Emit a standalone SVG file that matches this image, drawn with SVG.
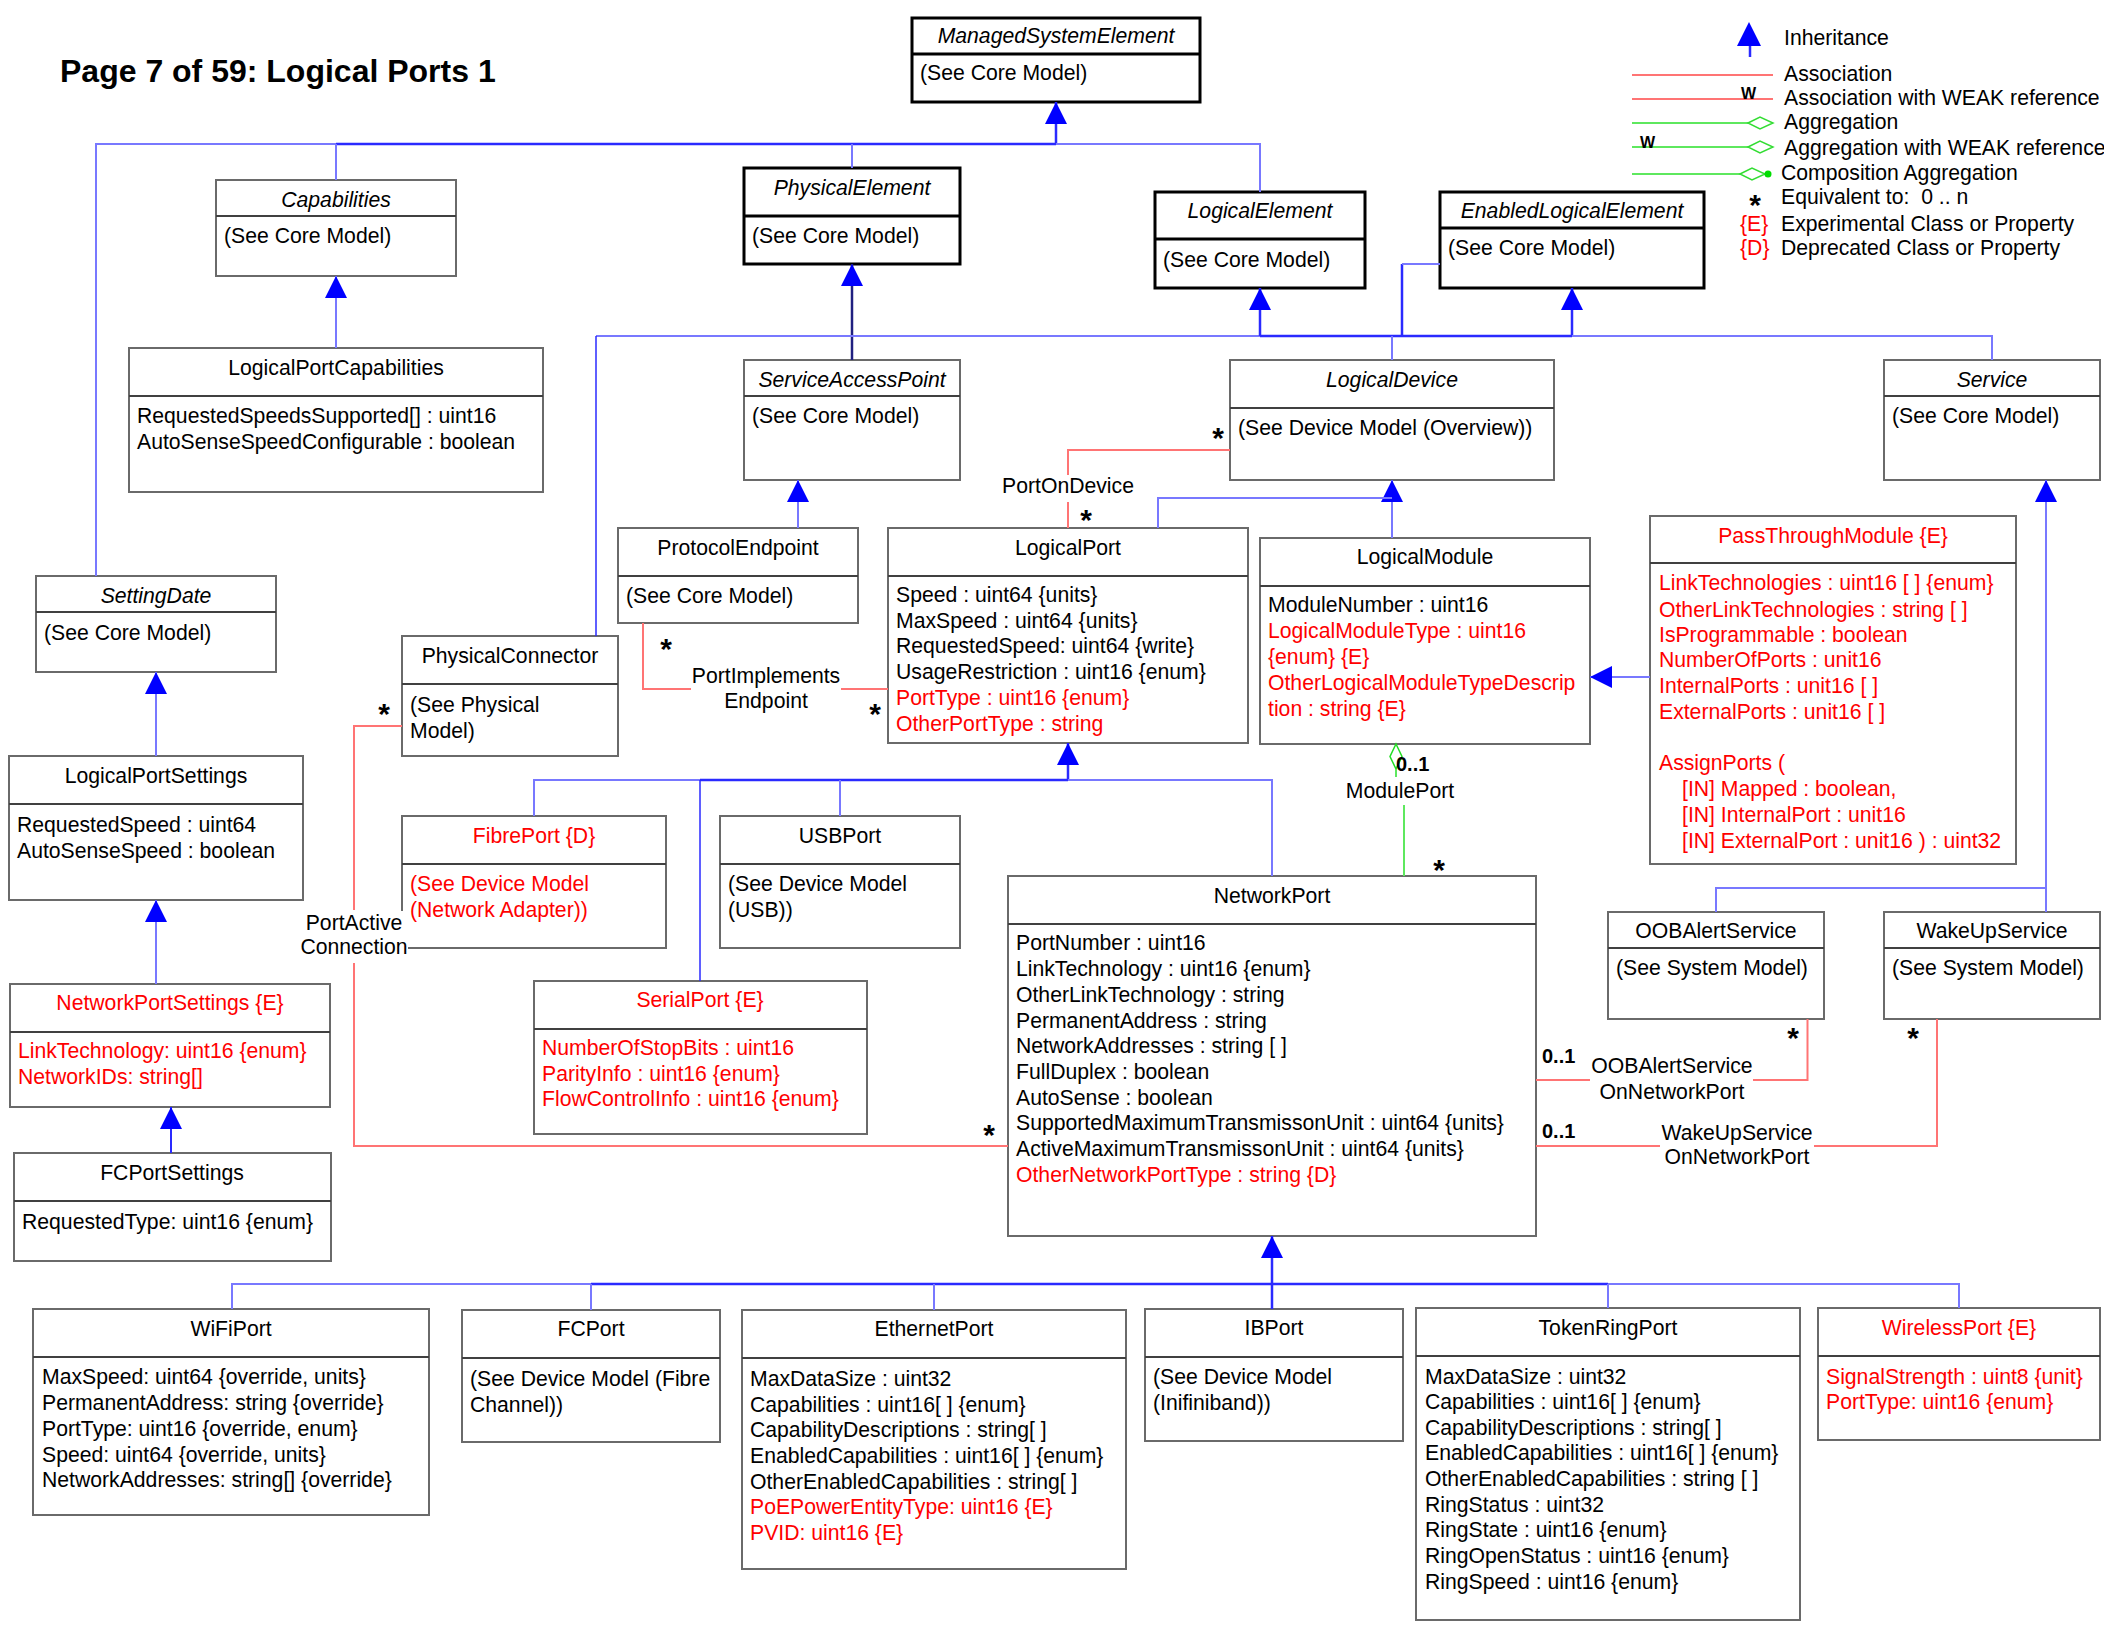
<svg xmlns="http://www.w3.org/2000/svg" width="2104" height="1634" viewBox="0 0 2104 1634">
<style>
text{font-family:"Liberation Sans",Arial,sans-serif;font-size:21.2px;fill:#000}
.t{text-anchor:middle}
.i{font-style:italic}
.r{fill:#f00}
.box{fill:#fff;stroke:#6a6a6a;stroke-width:2}
.bbox{fill:#fff;stroke:#000;stroke-width:3}
.dv{stroke:#404040;stroke-width:2}
.bdv{stroke:#000;stroke-width:3}
.dk{stroke:#2a2aff;stroke-width:2.5;fill:none}
.lt{stroke:#7878ff;stroke-width:2;fill:none}
.nv{stroke:#202080;stroke-width:2.5;fill:none}
.as{stroke:#ff7474;stroke-width:2;fill:none}
.ag{stroke:#5ee85e;stroke-width:2;fill:none}
.star{font-size:30px;font-weight:bold;text-anchor:middle}
.m{font-size:20px;font-weight:bold}
.w{font-size:16px;font-weight:bold}
</style>
<defs>
<marker id="inh" viewBox="0 0 22 22" refX="22" refY="11" markerWidth="22" markerHeight="22" orient="auto" markerUnits="userSpaceOnUse">
<path d="M0,0 L22,11 L0,22 z" fill="#0000ff"/>
</marker>
</defs>
<rect width="2104" height="1634" fill="#fff"/>
<text x="60" y="82" style="font-size:32px;font-weight:bold">Page 7 of 59: Logical Ports 1</text>

<g id="legend">
<path d="M1750,57 V40" class="dk"/>
<polygon points="1749,22 1761,46 1737,46" fill="#0000ff"/>
<text x="1784" y="45">Inheritance</text>
<path d="M1632,75 H1773" class="as"/>
<text x="1784" y="81">Association</text>
<path d="M1632,99 H1773" class="as"/>
<text x="1741" y="99" class="w">W</text>
<text x="1784" y="105">Association with WEAK reference</text>
<path d="M1632,123 H1748" class="ag"/>
<polygon points="1748,123 1760,117 1773,123 1760,129" fill="#fff" stroke="#33dd33" stroke-width="1.5"/>
<text x="1784" y="129">Aggregation</text>
<path d="M1632,147 H1748" class="ag"/>
<polygon points="1748,147 1760,141 1773,147 1760,153" fill="#fff" stroke="#33dd33" stroke-width="1.5"/>
<text x="1640" y="148" class="w">W</text>
<text x="1784" y="155">Aggregation with WEAK reference</text>
<path d="M1632,174 H1740" class="ag"/>
<polygon points="1740,174 1752,168 1765,174 1752,180" fill="#fff" stroke="#33dd33" stroke-width="1.5"/>
<circle cx="1768" cy="174" r="3.5" fill="#00dd00"/>
<text x="1781" y="180">Composition Aggregation</text>
<text x="1755" y="215" class="star">*</text>
<text x="1781" y="204" style="white-space:pre">Equivalent to:  0 .. n</text>
<text x="1740" y="231" class="r">{E}</text>
<text x="1781" y="231">Experimental Class or Property</text>
<text x="1740" y="255" class="r">{D}</text>
<text x="1781" y="255">Deprecated Class or Property</text>
</g>

<g id="ManagedSystemElement">
<rect x="912" y="18" width="288" height="84" class="bbox"/>
<line x1="912" y1="54" x2="1200" y2="54" class="bdv"/>
<text x="1056" y="43" class="t i">ManagedSystemElement</text>
<text x="920" y="80">(See Core Model)</text>
</g>
<g id="Capabilities">
<rect x="216" y="180" width="240" height="96" class="box"/>
<line x1="216" y1="216" x2="456" y2="216" class="dv"/>
<text x="336" y="207" class="t i">Capabilities</text>
<text x="224" y="243">(See Core Model)</text>
</g>
<g id="PhysicalElement">
<rect x="744" y="168" width="216" height="96" class="bbox"/>
<line x1="744" y1="216" x2="960" y2="216" class="bdv"/>
<text x="852" y="195" class="t i">PhysicalElement</text>
<text x="752" y="243">(See Core Model)</text>
</g>
<g id="LogicalElement">
<rect x="1155" y="192" width="210" height="96" class="bbox"/>
<line x1="1155" y1="239" x2="1365" y2="239" class="bdv"/>
<text x="1260" y="218" class="t i">LogicalElement</text>
<text x="1163" y="267">(See Core Model)</text>
</g>
<g id="EnabledLogicalElement">
<rect x="1440" y="192" width="264" height="96" class="bbox"/>
<line x1="1440" y1="228" x2="1704" y2="228" class="bdv"/>
<text x="1572" y="218" class="t i">EnabledLogicalElement</text>
<text x="1448" y="255">(See Core Model)</text>
</g>
<g id="LogicalPortCapabilities">
<rect x="129" y="348" width="414" height="144" class="box"/>
<line x1="129" y1="396" x2="543" y2="396" class="dv"/>
<text x="336" y="375" class="t">LogicalPortCapabilities</text>
<text x="137" y="423">RequestedSpeedsSupported[] : uint16</text>
<text x="137" y="449">AutoSenseSpeedConfigurable : boolean</text>
</g>
<g id="ServiceAccessPoint">
<rect x="744" y="360" width="216" height="120" class="box"/>
<line x1="744" y1="396" x2="960" y2="396" class="dv"/>
<text x="852" y="387" class="t i">ServiceAccessPoint</text>
<text x="752" y="423">(See Core Model)</text>
</g>
<g id="LogicalDevice">
<rect x="1230" y="360" width="324" height="120" class="box"/>
<line x1="1230" y1="408" x2="1554" y2="408" class="dv"/>
<text x="1392" y="387" class="t i">LogicalDevice</text>
<text x="1238" y="435">(See Device Model (Overview))</text>
</g>
<g id="Service">
<rect x="1884" y="360" width="216" height="120" class="box"/>
<line x1="1884" y1="396" x2="2100" y2="396" class="dv"/>
<text x="1992" y="387" class="t i">Service</text>
<text x="1892" y="423">(See Core Model)</text>
</g>
<g id="SettingDate">
<rect x="36" y="576" width="240" height="96" class="box"/>
<line x1="36" y1="612" x2="276" y2="612" class="dv"/>
<text x="156" y="603" class="t i">SettingDate</text>
<text x="44" y="640">(See Core Model)</text>
</g>
<g id="ProtocolEndpoint">
<rect x="618" y="528" width="240" height="95" class="box"/>
<line x1="618" y1="576" x2="858" y2="576" class="dv"/>
<text x="738" y="555" class="t">ProtocolEndpoint</text>
<text x="626" y="603">(See Core Model)</text>
</g>
<g id="LogicalPort">
<rect x="888" y="528" width="360" height="215" class="box"/>
<line x1="888" y1="576" x2="1248" y2="576" class="dv"/>
<text x="1068" y="555" class="t">LogicalPort</text>
<text x="896" y="602">Speed : uint64 {units}</text>
<text x="896" y="627.5">MaxSpeed : uint64 {units}</text>
<text x="896" y="653">RequestedSpeed: uint64 {write}</text>
<text x="896" y="679">UsageRestriction : uint16 {enum}</text>
<text x="896" y="705" class="r">PortType : uint16 {enum}</text>
<text x="896" y="730.5" class="r">OtherPortType : string</text>
</g>
<g id="LogicalModule">
<rect x="1260" y="538" width="330" height="206" class="box"/>
<line x1="1260" y1="586" x2="1590" y2="586" class="dv"/>
<text x="1425" y="564" class="t">LogicalModule</text>
<text x="1268" y="612">ModuleNumber : uint16</text>
<text x="1268" y="638" class="r">LogicalModuleType : uint16</text>
<text x="1268" y="664" class="r">{enum} {E}</text>
<text x="1268" y="690" class="r">OtherLogicalModuleTypeDescrip</text>
<text x="1268" y="716" class="r">tion : string {E}</text>
</g>
<g id="PhysicalConnector">
<rect x="402" y="636" width="216" height="120" class="box"/>
<line x1="402" y1="684" x2="618" y2="684" class="dv"/>
<text x="510" y="663" class="t">PhysicalConnector</text>
<text x="410" y="712">(See Physical</text>
<text x="410" y="737.5">Model)</text>
</g>
<g id="LogicalPortSettings">
<rect x="9" y="756" width="294" height="144" class="box"/>
<line x1="9" y1="804" x2="303" y2="804" class="dv"/>
<text x="156" y="783" class="t">LogicalPortSettings</text>
<text x="17" y="832">RequestedSpeed : uint64</text>
<text x="17" y="857.5">AutoSenseSpeed : boolean</text>
</g>
<g id="FibrePort">
<rect x="402" y="816" width="264" height="132" class="box"/>
<line x1="402" y1="864" x2="666" y2="864" class="dv"/>
<text x="534" y="843" class="t r">FibrePort {D}</text>
<text x="410" y="891" class="r">(See Device Model</text>
<text x="410" y="917" class="r">(Network Adapter))</text>
</g>
<g id="USBPort">
<rect x="720" y="816" width="240" height="132" class="box"/>
<line x1="720" y1="864" x2="960" y2="864" class="dv"/>
<text x="840" y="843" class="t">USBPort</text>
<text x="728" y="891">(See Device Model</text>
<text x="728" y="917">(USB))</text>
</g>
<g id="PassThroughModule">
<rect x="1650" y="516" width="366" height="348" class="box"/>
<line x1="1650" y1="563" x2="2016" y2="563" class="dv"/>
<text x="1833" y="543" class="t r">PassThroughModule {E}</text>
<text x="1659" y="590" class="r">LinkTechnologies : uint16 [ ] {enum}</text>
<text x="1659" y="616.5" class="r">OtherLinkTechnologies : string [ ]</text>
<text x="1659" y="642" class="r">IsProgrammable : boolean</text>
<text x="1659" y="667" class="r">NumberOfPorts : unit16</text>
<text x="1659" y="693" class="r">InternalPorts : unit16 [ ]</text>
<text x="1659" y="718.5" class="r">ExternalPorts : unit16 [ ]</text>
<text x="1659" y="770" class="r">AssignPorts (</text>
<text x="1682" y="796" class="r">[IN] Mapped : boolean,</text>
<text x="1682" y="822" class="r">[IN] InternalPort : unit16</text>
<text x="1682" y="847.5" class="r">[IN] ExternalPort : unit16 ) : uint32</text>
</g>
<g id="NetworkPort">
<rect x="1008" y="876" width="528" height="360" class="box"/>
<line x1="1008" y1="924" x2="1536" y2="924" class="dv"/>
<text x="1272" y="903" class="t">NetworkPort</text>
<text x="1016" y="950">PortNumber : uint16</text>
<text x="1016" y="976">LinkTechnology : uint16 {enum}</text>
<text x="1016" y="1002">OtherLinkTechnology : string</text>
<text x="1016" y="1027.5">PermanentAddress : string</text>
<text x="1016" y="1053">NetworkAddresses : string [ ]</text>
<text x="1016" y="1079">FullDuplex : boolean</text>
<text x="1016" y="1104.5">AutoSense : boolean</text>
<text x="1016" y="1130">SupportedMaximumTransmissonUnit : uint64 {units}</text>
<text x="1016" y="1156">ActiveMaximumTransmissonUnit : uint64 {units}</text>
<text x="1016" y="1181.5" class="r">OtherNetworkPortType : string {D}</text>
</g>
<g id="OOBAlertService">
<rect x="1608" y="912" width="216" height="107" class="box"/>
<line x1="1608" y1="948" x2="1824" y2="948" class="dv"/>
<text x="1716" y="938" class="t">OOBAlertService</text>
<text x="1616" y="975">(See System Model)</text>
</g>
<g id="WakeUpService">
<rect x="1884" y="912" width="216" height="107" class="box"/>
<line x1="1884" y1="948" x2="2100" y2="948" class="dv"/>
<text x="1992" y="938" class="t">WakeUpService</text>
<text x="1892" y="975">(See System Model)</text>
</g>
<g id="NetworkPortSettings">
<rect x="10" y="984" width="320" height="123" class="box"/>
<line x1="10" y1="1032" x2="330" y2="1032" class="dv"/>
<text x="170" y="1010" class="t r">NetworkPortSettings {E}</text>
<text x="18" y="1058" class="r">LinkTechnology: uint16 {enum}</text>
<text x="18" y="1084" class="r">NetworkIDs: string[]</text>
</g>
<g id="SerialPort">
<rect x="534" y="981" width="333" height="153" class="box"/>
<line x1="534" y1="1029" x2="867" y2="1029" class="dv"/>
<text x="700" y="1007" class="t r">SerialPort {E}</text>
<text x="542" y="1055" class="r">NumberOfStopBits : uint16</text>
<text x="542" y="1080.5" class="r">ParityInfo : uint16 {enum}</text>
<text x="542" y="1106" class="r">FlowControlInfo : uint16 {enum}</text>
</g>
<g id="FCPortSettings">
<rect x="14" y="1153" width="317" height="108" class="box"/>
<line x1="14" y1="1201" x2="331" y2="1201" class="dv"/>
<text x="172" y="1180" class="t">FCPortSettings</text>
<text x="22" y="1228.5">RequestedType: uint16 {enum}</text>
</g>
<g id="WiFiPort">
<rect x="33" y="1309" width="396" height="206" class="box"/>
<line x1="33" y1="1357" x2="429" y2="1357" class="dv"/>
<text x="231" y="1336" class="t">WiFiPort</text>
<text x="42" y="1384">MaxSpeed: uint64 {override, units}</text>
<text x="42" y="1410">PermanentAddress: string {override}</text>
<text x="42" y="1436">PortType: uint16 {override, enum}</text>
<text x="42" y="1461.5">Speed: uint64 {override, units}</text>
<text x="42" y="1487">NetworkAddresses: string[] {override}</text>
</g>
<g id="FCPort">
<rect x="462" y="1310" width="258" height="132" class="box"/>
<line x1="462" y1="1358" x2="720" y2="1358" class="dv"/>
<text x="591" y="1336" class="t">FCPort</text>
<text x="470" y="1385.5">(See Device Model (Fibre</text>
<text x="470" y="1411.5">Channel))</text>
</g>
<g id="EthernetPort">
<rect x="742" y="1310" width="384" height="259" class="box"/>
<line x1="742" y1="1358" x2="1126" y2="1358" class="dv"/>
<text x="934" y="1336" class="t">EthernetPort</text>
<text x="750" y="1385.5">MaxDataSize : uint32</text>
<text x="750" y="1411.5">Capabilities : uint16[ ] {enum}</text>
<text x="750" y="1437">CapabilityDescriptions : string[ ]</text>
<text x="750" y="1462.5">EnabledCapabilities : uint16[ ] {enum}</text>
<text x="750" y="1488.5">OtherEnabledCapabilities : string[ ]</text>
<text x="750" y="1513.5" class="r">PoEPowerEntityType: uint16 {E}</text>
<text x="750" y="1540" class="r">PVID: uint16 {E}</text>
</g>
<g id="IBPort">
<rect x="1145" y="1309" width="258" height="132" class="box"/>
<line x1="1145" y1="1357" x2="1403" y2="1357" class="dv"/>
<text x="1274" y="1335" class="t">IBPort</text>
<text x="1153" y="1384">(See Device Model</text>
<text x="1153" y="1410">(Inifiniband))</text>
</g>
<g id="TokenRingPort">
<rect x="1416" y="1308" width="384" height="312" class="box"/>
<line x1="1416" y1="1356" x2="1800" y2="1356" class="dv"/>
<text x="1608" y="1335" class="t">TokenRingPort</text>
<text x="1425" y="1383.5">MaxDataSize : uint32</text>
<text x="1425" y="1409">Capabilities : uint16[ ] {enum}</text>
<text x="1425" y="1434.5">CapabilityDescriptions : string[ ]</text>
<text x="1425" y="1460">EnabledCapabilities : uint16[ ] {enum}</text>
<text x="1425" y="1486">OtherEnabledCapabilities : string [ ]</text>
<text x="1425" y="1511.5">RingStatus : uint32</text>
<text x="1425" y="1537">RingState : uint16 {enum}</text>
<text x="1425" y="1563">RingOpenStatus : uint16 {enum}</text>
<text x="1425" y="1588.5">RingSpeed : uint16 {enum}</text>
</g>
<g id="WirelessPort">
<rect x="1818" y="1308" width="282" height="132" class="box"/>
<line x1="1818" y1="1356" x2="2100" y2="1356" class="dv"/>
<text x="1959" y="1335" class="t r">WirelessPort {E}</text>
<text x="1826" y="1383.5" class="r">SignalStrength : uint8 {unit}</text>
<text x="1826" y="1409" class="r">PortType: uint16 {enum}</text>
</g>

<g id="connectors">
<path d="M336,144 H1056" class="dk"/>
<path d="M1056,144 V102" class="dk" marker-end="url(#inh)"/>
<path d="M96,576 V144 H336" class="lt"/>
<path d="M1056,144 H1260 V192" class="lt"/>
<path d="M336,144 V180" class="lt"/>
<path d="M852,144 V168" class="lt"/>
<path d="M336,348 V276" class="lt" marker-end="url(#inh)"/>
<path d="M852,360 V264" class="nv" marker-end="url(#inh)"/>
<path d="M596,336 H1260" class="lt"/>
<path d="M1260,336 H1572" class="dk"/>
<path d="M1260,336 V288" class="dk" marker-end="url(#inh)"/>
<path d="M1572,336 V288" class="dk" marker-end="url(#inh)"/>
<path d="M1402,336 V264" class="dk"/>
<path d="M1402,264 H1440" class="lt"/>
<path d="M1572,336 H1992 V360" class="lt"/>
<path d="M1392,336 V360" class="lt"/>
<path d="M596,336 V636" class="dk" style="stroke-width:1.5"/>
<path d="M798,528 V480" class="lt" marker-end="url(#inh)"/>
<path d="M1392,538 V480" class="lt" marker-end="url(#inh)"/>
<path d="M1158,528 V498 H1392" class="lt"/>
<path d="M700,780 H1068" class="dk"/>
<path d="M1068,780 V743" class="dk" marker-end="url(#inh)"/>
<path d="M534,816 V780 H700" class="lt"/>
<path d="M700,780 V981" class="dk" style="stroke-width:1.5"/>
<path d="M840,780 V816" class="lt"/>
<path d="M1068,780 H1272 V876" class="lt"/>
<path d="M2046,912 V480" class="lt" marker-end="url(#inh)"/>
<path d="M1716,912 V888 H2046" class="lt"/>
<path d="M1650,677 H1590" class="lt" marker-end="url(#inh)"/>
<path d="M156,756 V672" class="lt" marker-end="url(#inh)"/>
<path d="M156,984 V900" class="lt" marker-end="url(#inh)"/>
<path d="M171,1153 V1107" class="dk" style="stroke-width:2" marker-end="url(#inh)"/>
<path d="M1272,1309 V1236" class="dk" marker-end="url(#inh)"/>
<path d="M591,1284 H1608" class="dk"/>
<path d="M232,1309 V1284 H591" class="lt"/>
<path d="M591,1284 V1310" class="lt"/>
<path d="M934,1284 V1310" class="lt"/>
<path d="M1608,1284 H1959 V1308" class="lt"/>
<path d="M1608,1284 V1308" class="lt"/>

<path d="M1230,450 H1068 V475 M1068,502 V528" class="as"/>
<text x="1068" y="493" class="t">PortOnDevice</text>
<text x="1218" y="448" class="star">*</text>
<text x="1086" y="530" class="star">*</text>

<path d="M643,623 V689 H691 M841,689 H888" class="as"/>
<text x="766" y="683" class="t">PortImplements</text>
<text x="766" y="708" class="t">Endpoint</text>
<text x="666" y="659" class="star">*</text>
<text x="875" y="724" class="star">*</text>

<path d="M402,726 H354 V910 M354,963 V1146 H1008" class="as"/>
<rect x="300" y="911" width="108" height="50" fill="#fff"/>
<text x="354" y="930" class="t">PortActive</text>
<text x="354" y="954" class="t">Connection</text>
<text x="384" y="724" class="star">*</text>
<text x="989" y="1145" class="star">*</text>

<path d="M1807.5,1019 V1080 H1753 M1590,1080 H1536" class="as"/>
<text x="1672" y="1073" class="t">OOBAlertService</text>
<text x="1672" y="1099" class="t">OnNetworkPort</text>
<text x="1542" y="1063" class="m">0..1</text>
<text x="1793" y="1048" class="star">*</text>

<path d="M1937,1019 V1146 H1814 M1660,1146 H1536" class="as"/>
<text x="1737" y="1139.5" class="t">WakeUpService</text>
<text x="1737" y="1164" class="t">OnNetworkPort</text>
<text x="1542" y="1138" class="m">0..1</text>
<text x="1913" y="1048" class="star">*</text>

<polygon points="1396,744 1402,756.5 1396,769 1390,756.5" fill="#fff" stroke="#22dd22" stroke-width="1.5"/>
<path d="M1396,769 V777 M1404,805 V876" class="ag"/>
<text x="1396" y="771" class="m">0..1</text>
<text x="1400" y="798" class="t">ModulePort</text>
<text x="1439" y="880" class="star">*</text>
</g>
</svg>
